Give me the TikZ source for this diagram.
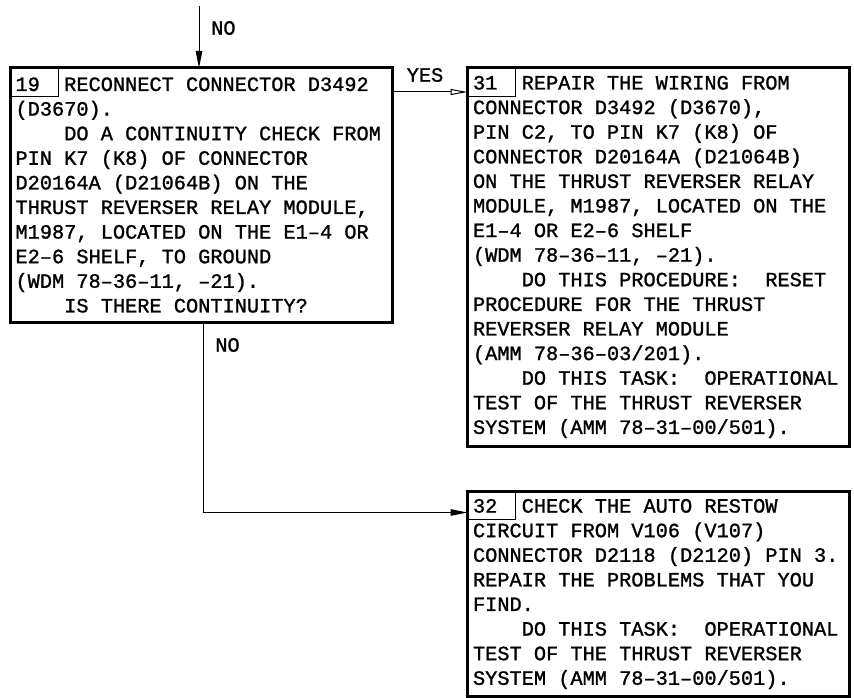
\documentclass[tikz,border=0pt]{standalone}
\usepackage{fontspec}
\newfontfamily\stepfont[FakeBold=1.2]{Liberation Mono}
\usetikzlibrary{arrows.meta}
\newcommand\indt{\phantom{MMMM}}
\newcommand\monosize{\fontsize{20.3}{24.6}\selectfont\frenchspacing
  \spaceskip=\fontcharwd\font`M\relax}

\begin{document}
\begin{tikzpicture}[x=1pt,y=-1pt,
  stepbox/.style={draw,line width=3pt,anchor=north west,outer sep=0pt,
    inner xsep=5.5pt,inner ysep=0pt,text width=371pt,align=flush left,
    font=\stepfont\monosize},
  numbox/.style={draw,line width=0.9pt,anchor=north west,outer sep=0pt,
    inner sep=0pt,minimum width=48pt,minimum height=28pt},
  link/.style={line width=1pt,-{Triangle[length=17pt,width=6.5pt]}},
  yeslink/.style={line width=1pt,-{Triangle[open,length=17pt,width=6pt,fill=white]}},
  answer/.style={inner sep=0pt,font=\stepfont\monosize}]
  \useasboundingbox[fill=white] (0,0) rectangle (854,698);
  % step 19
  \node[stepbox,minimum height=254pt] (b19) at (10,68) {%
    19~~RECONNECT CONNECTOR D3492\\
    (D3670).\\
    \indt DO A CONTINUITY CHECK FROM\\
    PIN K7 (K8) OF CONNECTOR\\
    D20164A (D21064B) ON THE\\
    THRUST REVERSER RELAY MODULE,\\
    M1987, LOCATED ON THE E1–4 OR\\
    E2–6 SHELF, TO GROUND\\
    (WDM 78–36–11, –21).\\
    \indt IS THERE CONTINUITY?};
  \node[numbox] (n19) at (b19.north west) {};
  % step 31
  \node[stepbox,minimum height=378pt] (b31) at (467.5,68) {%
    31~~REPAIR THE WIRING FROM\\
    CONNECTOR D3492 (D3670),\\
    PIN C2, TO PIN K7 (K8) OF\\
    CONNECTOR D20164A (D21064B)\\
    ON THE THRUST REVERSER RELAY\\
    MODULE, M1987, LOCATED ON THE\\
    E1–4 OR E2–6 SHELF\\
    (WDM 78–36–11, –21).\\
    \indt DO THIS PROCEDURE:~ RESET\\
    PROCEDURE FOR THE THRUST\\
    REVERSER RELAY MODULE\\
    (AMM 78–36–03/201).\\
    \indt DO THIS TASK:~ OPERATIONAL\\
    TEST OF THE THRUST REVERSER\\
    SYSTEM (AMM 78–31–00/501).};
  \node[numbox] (n31) at (b31.north west) {};
  % step 32
  \node[stepbox,minimum height=205pt] (b32) at (467.5,491.5) {%
    32~~CHECK THE AUTO RESTOW\\
    CIRCUIT FROM V106 (V107)\\
    CONNECTOR D2118 (D2120) PIN 3.\\
    REPAIR THE PROBLEMS THAT YOU\\
    FIND.\\
    \indt DO THIS TASK:~ OPERATIONAL\\
    TEST OF THE THRUST REVERSER\\
    SYSTEM (AMM 78–31–00/501).};
  \node[numbox] (n32) at (b32.north west) {};
  % connectors
  \coordinate (entry) at (199,6);
  \draw[link] (entry) -- (entry |- b19.north);
  \node[answer,anchor=west] (no1) at (211,28) {NO};
  \draw[yeslink] ([yshift=-24pt]b19.north east) -- ([yshift=-24pt]b31.north west);
  \node[answer] (yes) at (425,75) {YES};
  \draw[link] ([xshift=2pt]b19.south) |- ([yshift=-21pt]b32.north west);
  \node[answer] (no2) at (227.5,345) {NO};
\end{tikzpicture}
\end{document}
